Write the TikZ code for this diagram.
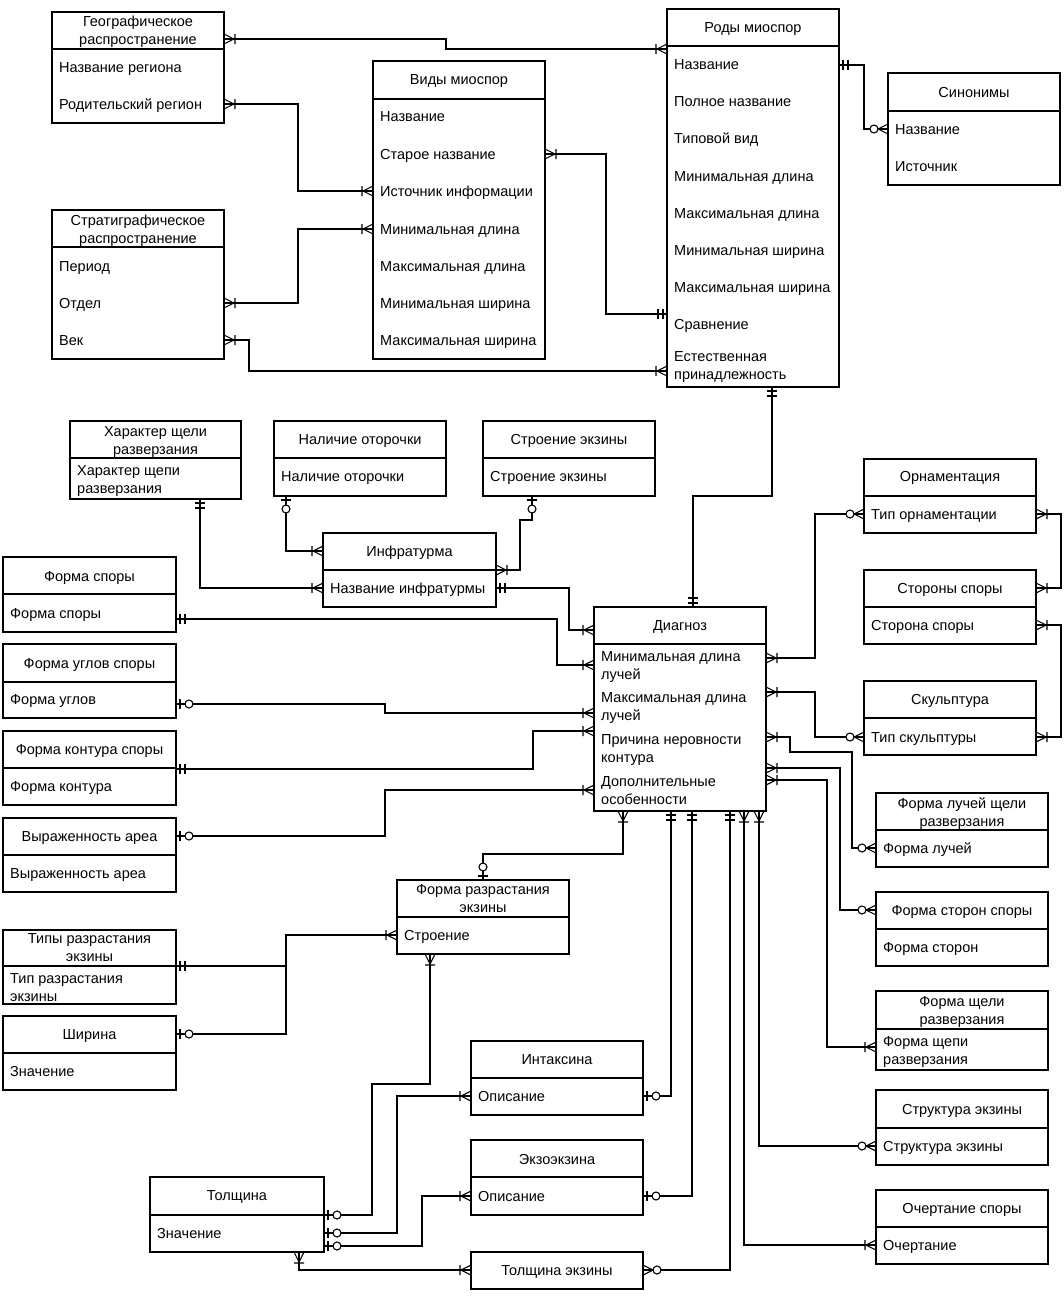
\documentclass[tikz,border=0pt]{standalone}
\usepackage{fontspec}
\setmainfont{Liberation Sans}
\tikzset{
  pics/cfmany/.style={code={\draw[conn] (0,-5)--(10,0)--(0,5) (0,0)--(10,0) (11,-5)--(11,5);}},
  pics/cfone/.style={code={\draw[conn] (4,-5)--(4,5) (9,-5)--(9,5);}},
  pics/cfzo/.style={code={\draw[conn] (4,-5)--(4,5); \draw[conn,fill=white] (13,0) circle[radius=4];}},
  pics/cfzm/.style={code={\draw[conn] (0,-5)--(10,0)--(0,5) (0,0)--(10,0); \draw[conn,fill=white] (14,0) circle[radius=4];}},
}
\newcommand\ent[6]{%
  \node[box, minimum width={#4-#2}, minimum height={#5-#3}] (#1h) at (#2,#3) {};
  \node[box, minimum width={#4-#2}, minimum height={#6-#5}] (#1) at (#2,#5) {};}
\newcommand\hd[4]{\node[hdr] (#1) at (#2h.north |- 0,#3+5) {#4};}
\newcommand\rw[4]{\node[lbl] (#1) at (#2+7,#3+5) {#4};}
\newcommand\mc[1]{\begin{tabular}[t]{@{}c@{}}#1\end{tabular}}
\newcommand\ml[1]{\begin{tabular}[t]{@{}l@{}}#1\end{tabular}}
\newcommand\mk[3]{\pic[rotate=#2] at (#1) {#3};}
\begin{document}
\begin{tikzpicture}[x=1pt,y=-1pt,
  box/.style={draw, line width=1.3pt, inner sep=0pt, outer sep=0pt, anchor=north west},
  txt/.style={inner sep=0pt, font=\fontsize{14.5}{18.5}\selectfont},
  lbl/.style={txt, anchor=base west},
  hdr/.style={txt, anchor=base},
  conn/.style={line width=1.1pt}]
\fill[white] (0,0) rectangle (1064,1299);
\useasboundingbox (0,0) rectangle (1064,1299);
% entities
\ent{geo}{52}{12}{224}{49}{123}
\ent{vid}{373}{61}{545}{99}{359}
\ent{rod}{667}{9}{839}{46}{387}
\ent{sin}{888}{73}{1060}{111}{185}
\ent{str}{52}{210}{224}{247}{359}
\ent{har}{70}{421}{241}{458}{499}
\ent{nal}{274}{421}{446}{458}{496}
\ent{stre}{483}{421}{655}{458}{496}
\ent{orn}{864}{459}{1036}{496}{533}
\ent{inf}{323}{533}{496}{570}{607}
\ent{fsp}{3}{557}{176}{594}{632}
\ent{stor}{864}{570}{1036}{607}{644}
\ent{dia}{594}{607}{766}{644}{811}
\ent{fug}{3}{644}{176}{682}{718}
\ent{skul}{864}{681}{1036}{718}{755}
\ent{fkon}{3}{731}{176}{768}{805}
\ent{fluch}{876}{793}{1048}{830}{867}
\ent{vyr}{3}{818}{176}{855}{892}
\ent{fstor}{876}{892}{1048}{929}{966}
\ent{frazr}{397}{880}{569}{917}{954}
\ent{tip}{3}{930}{176}{966}{1004}
\ent{fshch}{876}{991}{1048}{1029}{1070}
\ent{shir}{3}{1016}{176}{1053}{1090}
\ent{intk}{471}{1041}{643}{1078}{1115}
\ent{strk}{876}{1090}{1048}{1128}{1165}
\ent{ekz}{471}{1140}{643}{1177}{1215}
\ent{tol}{150}{1177}{324}{1215}{1252}
\ent{ocher}{876}{1190}{1048}{1227}{1264}
\node[box, minimum width=172, minimum height=37] (tolekz) at (471,1252) {};
% headers
\hd{geoT}{geo}{21}{\mc{Географическое\\распространение}}
\hd{vidT}{vid}{79}{Виды миоспор}
\hd{rodT}{rod}{27}{Роды миоспор}
\hd{sinT}{sin}{92}{Синонимы}
\hd{strT}{str}{220}{\mc{Стратиграфическое\\распространение}}
\hd{harT}{har}{431}{\mc{Характер щели\\разверзания}}
\hd{nalT}{nal}{439}{Наличие оторочки}
\hd{streT}{stre}{439}{Строение экзины}
\hd{ornT}{orn}{476}{Орнаментация}
\hd{infT}{inf}{551}{Инфратурма}
\hd{fspT}{fsp}{576}{Форма споры}
\hd{storT}{stor}{588}{Стороны споры}
\hd{diaT}{dia}{625}{Диагноз}
\hd{fugT}{fug}{663}{Форма углов споры}
\hd{skulT}{skul}{699}{Скульптура}
\hd{fkonT}{fkon}{749}{Форма контура споры}
\hd{fluchT}{fluch}{803}{\mc{Форма лучей щели\\разверзания}}
\hd{vyrT}{vyr}{836}{Выраженность ареа}
\hd{fstorT}{fstor}{910}{Форма сторон споры}
\hd{frazrT}{frazr}{889}{\mc{Форма разрастания\\экзины}}
\hd{tipT}{tip}{938}{\mc{Типы разрастания\\экзины}}
\hd{fshchT}{fshch}{1001}{\mc{Форма щели\\разверзания}}
\hd{shirT}{shir}{1034}{Ширина}
\hd{intkT}{intk}{1059}{Интаксина}
\hd{strkT}{strk}{1109}{Структура экзины}
\hd{ekzT}{ekz}{1159}{Экзоэкзина}
\hd{tolT}{tol}{1195}{Толщина}
\hd{ocherT}{ocher}{1208}{Очертание споры}
\node[hdr] (tolekzT) at (tolekz.north |- 0,1275) {Толщина экзины};
% rows
\rw{geo1}{52}{67}{Название региона}
\rw{geo2}{52}{104}{Родительский регион}
\rw{vid1}{373}{116}{Название}
\rw{vid2}{373}{154}{Старое название}
\rw{vid3}{373}{191}{Источник информации}
\rw{vid4}{373}{229}{Минимальная длина}
\rw{vid5}{373}{266}{Максимальная длина}
\rw{vid6}{373}{303}{Минимальная ширина}
\rw{vid7}{373}{340}{Максимальная ширина}
\rw{rod1}{667}{64}{Название}
\rw{rod2}{667}{101}{Полное название}
\rw{rod3}{667}{138}{Типовой вид}
\rw{rod4}{667}{176}{Минимальная длина}
\rw{rod5}{667}{213}{Максимальная длина}
\rw{rod6}{667}{250}{Минимальная ширина}
\rw{rod7}{667}{287}{Максимальная ширина}
\rw{rod8}{667}{324}{Сравнение}
\rw{rod9}{667}{356}{\ml{Естественная\\принадлежность}}
\rw{sin1}{888}{129}{Название}
\rw{sin2}{888}{166}{Источник}
\rw{str1}{52}{266}{Период}
\rw{str2}{52}{303}{Отдел}
\rw{str3}{52}{340}{Век}
\rw{har1}{70}{470}{\ml{Характер щепи\\разверзания}}
\rw{nal1}{274}{476}{Наличие оторочки}
\rw{stre1}{483}{476}{Строение экзины}
\rw{orn1}{864}{514}{Тип орнаментации}
\rw{inf1}{323}{588}{Название инфратурмы}
\rw{fsp1}{3}{613}{Форма споры}
\rw{stor1}{864}{625}{Сторона споры}
\rw{dia1}{594}{656}{\ml{Минимальная длина\\лучей}}
\rw{dia2}{594}{697}{\ml{Максимальная длина\\лучей}}
\rw{dia3}{594}{739}{\ml{Причина неровности\\контура}}
\rw{dia4}{594}{781}{\ml{Дополнительные\\особенности}}
\rw{fug1}{3}{699}{Форма углов}
\rw{skul1}{864}{737}{Тип скульптуры}
\rw{fkon1}{3}{786}{Форма контура}
\rw{fluch1}{876}{848}{Форма лучей}
\rw{vyr1}{3}{873}{Выраженность ареа}
\rw{fstor1}{876}{947}{Форма сторон}
\rw{frazr1}{397}{935}{Строение}
\rw{tip1}{3}{978}{\ml{Тип разрастания\\экзины}}
\rw{fshch1}{876}{1041}{\ml{Форма щепи\\разверзания}}
\rw{shir1}{3}{1071}{Значение}
\rw{intk1}{471}{1096}{Описание}
\rw{strk1}{876}{1146}{Структура экзины}
\rw{ekz1}{471}{1196}{Описание}
\rw{tol1}{150}{1233}{Значение}
\rw{ocher1}{876}{1245}{Очертание}
% connectors
\coordinate (j1) at (286,966);
\draw[conn] (geoh.east |- 0,39) -- (446,39) -- (446,49) -- (rod.west |- 0,49);
\draw[conn] (geo.east |- 0,104) -- (298,104) -- (298,191) -- (vid.west |- 0,191);
\draw[conn] (str.east |- 0,303) -- (298,303) -- (298,229) -- (vid.west |- 0,229);
\draw[conn] (str.east |- 0,340) -- (249,340) -- (249,371) -- (rod.west |- 0,371);
\draw[conn] (vid.east |- 0,154) -- (606,154) -- (606,314) -- (rod.west |- 0,314);
\draw[conn] (rod.east |- 0,65) -- (864,65) -- (864,129) -- (sin.west |- 0,129);
\draw[conn] (rod.south -| 772,0) -- (772,496) -- (693,496) -- (diah.north -| 693,0);
\draw[conn] (har.south -| 200,0) -- (200,588) -- (inf.west |- 0,588);
\draw[conn] (nal.south -| 286,0) -- (286,551) -- (infh.west |- 0,551);
\draw[conn] (stre.south -| 532,0) -- (532,520) -- (520,520) -- (520,570) -- (inf.east |- 0,570);
\draw[conn] (inf.east |- 0,588) -- (569,588) -- (569,630) -- (diah.west |- 0,630);
\draw[conn] (fsp.east |- 0,619) -- (557,619) -- (557,665) -- (dia.west |- 0,665);
\draw[conn] (fug.east |- 0,704) -- (385,704) -- (385,713) -- (dia.west |- 0,713);
\draw[conn] (fkon.east |- 0,769) -- (533,769) -- (533,731) -- (dia.west |- 0,731);
\draw[conn] (vyrh.east |- 0,836) -- (385,836) -- (385,790) -- (dia.west |- 0,790);
\draw[conn] (dia.east |- 0,658) -- (815,658) -- (815,514) -- (orn.west |- 0,514);
\draw[conn] (dia.east |- 0,692) -- (815,692) -- (815,737) -- (skul.west |- 0,737);
\draw[conn] (orn.east |- 0,514) -- (1061,514) -- (1061,588) -- (storh.east |- 0,588);
\draw[conn] (stor.east |- 0,625) -- (1061,625) -- (1061,737) -- (skul.east |- 0,737);
\draw[conn] (dia.east |- 0,737) -- (790,737) -- (790,752) -- (852,752) -- (852,848) -- (fluch.west |- 0,848);
\draw[conn] (dia.east |- 0,768) -- (840,768) -- (840,910) -- (fstorh.west |- 0,910);
\draw[conn] (dia.east |- 0,780) -- (827,780) -- (827,1047) -- (fshch.west |- 0,1047);
\draw[conn] (dia.south -| 759,0) -- (759,1146) -- (strk.west |- 0,1146);
\draw[conn] (dia.south -| 744,0) -- (744,1245) -- (ocher.west |- 0,1245);
\draw[conn] (dia.south -| 623,0) -- (623,854) -- (483,854) -- (frazrh.north -| 483,0);
\draw[conn] (dia.south -| 671,0) -- (671,1096) -- (intk.east |- 0,1096);
\draw[conn] (dia.south -| 692,0) -- (692,1196) -- (ekz.east |- 0,1196);
\draw[conn] (dia.south -| 730,0) -- (730,1270) -- (tolekz.east |- 0,1270);
\draw[conn] (tip.east |- 0,966) -- (286,966) -- (286,935) -- (frazr.west |- 0,935);
\draw[conn] (shirh.east |- 0,1034) -- (286,1034) -- (j1);
\draw[conn] (tol.east |- 0,1215) -- (372,1215) -- (372,1084) -- (430,1084) -- (frazr.south -| 430,0);
\draw[conn] (tol.east |- 0,1233) -- (397,1233) -- (397,1096) -- (intk.west |- 0,1096);
\draw[conn] (tol.east |- 0,1246) -- (422,1246) -- (422,1196) -- (ekz.west |- 0,1196);
\draw[conn] (tol.south -| 299,0) -- (299,1270) -- (tolekz.west |- 0,1270);
% end marks
\mk{geoh.east |- 0,39}{0}{cfmany}       \mk{rod.west |- 0,49}{180}{cfmany}
\mk{geo.east |- 0,104}{0}{cfmany}       \mk{vid.west |- 0,191}{180}{cfmany}
\mk{str.east |- 0,303}{0}{cfmany}       \mk{vid.west |- 0,229}{180}{cfmany}
\mk{str.east |- 0,340}{0}{cfmany}       \mk{rod.west |- 0,371}{180}{cfmany}
\mk{vid.east |- 0,154}{0}{cfmany}       \mk{rod.west |- 0,314}{180}{cfone}
\mk{rod.east |- 0,65}{0}{cfone}         \mk{sin.west |- 0,129}{180}{cfzm}
\mk{rod.south -| 772,0}{270}{cfone}     \mk{diah.north -| 693,0}{90}{cfone}
\mk{har.south -| 200,0}{270}{cfone}     \mk{inf.west |- 0,588}{180}{cfmany}
\mk{nal.south -| 286,0}{270}{cfzo}      \mk{infh.west |- 0,551}{180}{cfmany}
\mk{stre.south -| 532,0}{270}{cfzo}     \mk{inf.east |- 0,570}{0}{cfmany}
\mk{inf.east |- 0,588}{0}{cfone}        \mk{diah.west |- 0,630}{180}{cfmany}
\mk{fsp.east |- 0,619}{0}{cfone}        \mk{dia.west |- 0,665}{180}{cfmany}
\mk{fug.east |- 0,704}{0}{cfzo}         \mk{dia.west |- 0,713}{180}{cfmany}
\mk{fkon.east |- 0,769}{0}{cfone}       \mk{dia.west |- 0,731}{180}{cfmany}
\mk{vyrh.east |- 0,836}{0}{cfzo}        \mk{dia.west |- 0,790}{180}{cfmany}
\mk{dia.east |- 0,658}{0}{cfmany}       \mk{orn.west |- 0,514}{180}{cfzm}
\mk{dia.east |- 0,692}{0}{cfmany}       \mk{skul.west |- 0,737}{180}{cfzm}
\mk{orn.east |- 0,514}{0}{cfmany}       \mk{storh.east |- 0,588}{0}{cfmany}
\mk{stor.east |- 0,625}{0}{cfmany}      \mk{skul.east |- 0,737}{0}{cfmany}
\mk{dia.east |- 0,737}{0}{cfmany}       \mk{fluch.west |- 0,848}{180}{cfzm}
\mk{dia.east |- 0,768}{0}{cfmany}       \mk{fstorh.west |- 0,910}{180}{cfzm}
\mk{dia.east |- 0,780}{0}{cfmany}       \mk{fshch.west |- 0,1047}{180}{cfmany}
\mk{dia.south -| 759,0}{270}{cfmany}    \mk{strk.west |- 0,1146}{180}{cfzm}
\mk{dia.south -| 744,0}{270}{cfmany}    \mk{ocher.west |- 0,1245}{180}{cfmany}
\mk{dia.south -| 623,0}{270}{cfmany}    \mk{frazrh.north -| 483,0}{90}{cfzo}
\mk{dia.south -| 671,0}{270}{cfone}     \mk{intk.east |- 0,1096}{0}{cfzo}
\mk{dia.south -| 692,0}{270}{cfone}     \mk{ekz.east |- 0,1196}{0}{cfzo}
\mk{dia.south -| 730,0}{270}{cfone}     \mk{tolekz.east |- 0,1270}{0}{cfzm}
\mk{tip.east |- 0,966}{0}{cfone}        \mk{frazr.west |- 0,935}{180}{cfmany}
\mk{shirh.east |- 0,1034}{0}{cfzo}
\mk{tol.east |- 0,1215}{0}{cfzo}        \mk{frazr.south -| 430,0}{270}{cfmany}
\mk{tol.east |- 0,1233}{0}{cfzo}        \mk{intk.west |- 0,1096}{180}{cfmany}
\mk{tol.east |- 0,1246}{0}{cfzo}        \mk{ekz.west |- 0,1196}{180}{cfmany}
\mk{tol.south -| 299,0}{270}{cfmany}    \mk{tolekz.west |- 0,1270}{180}{cfmany}
\end{tikzpicture}
\end{document}
